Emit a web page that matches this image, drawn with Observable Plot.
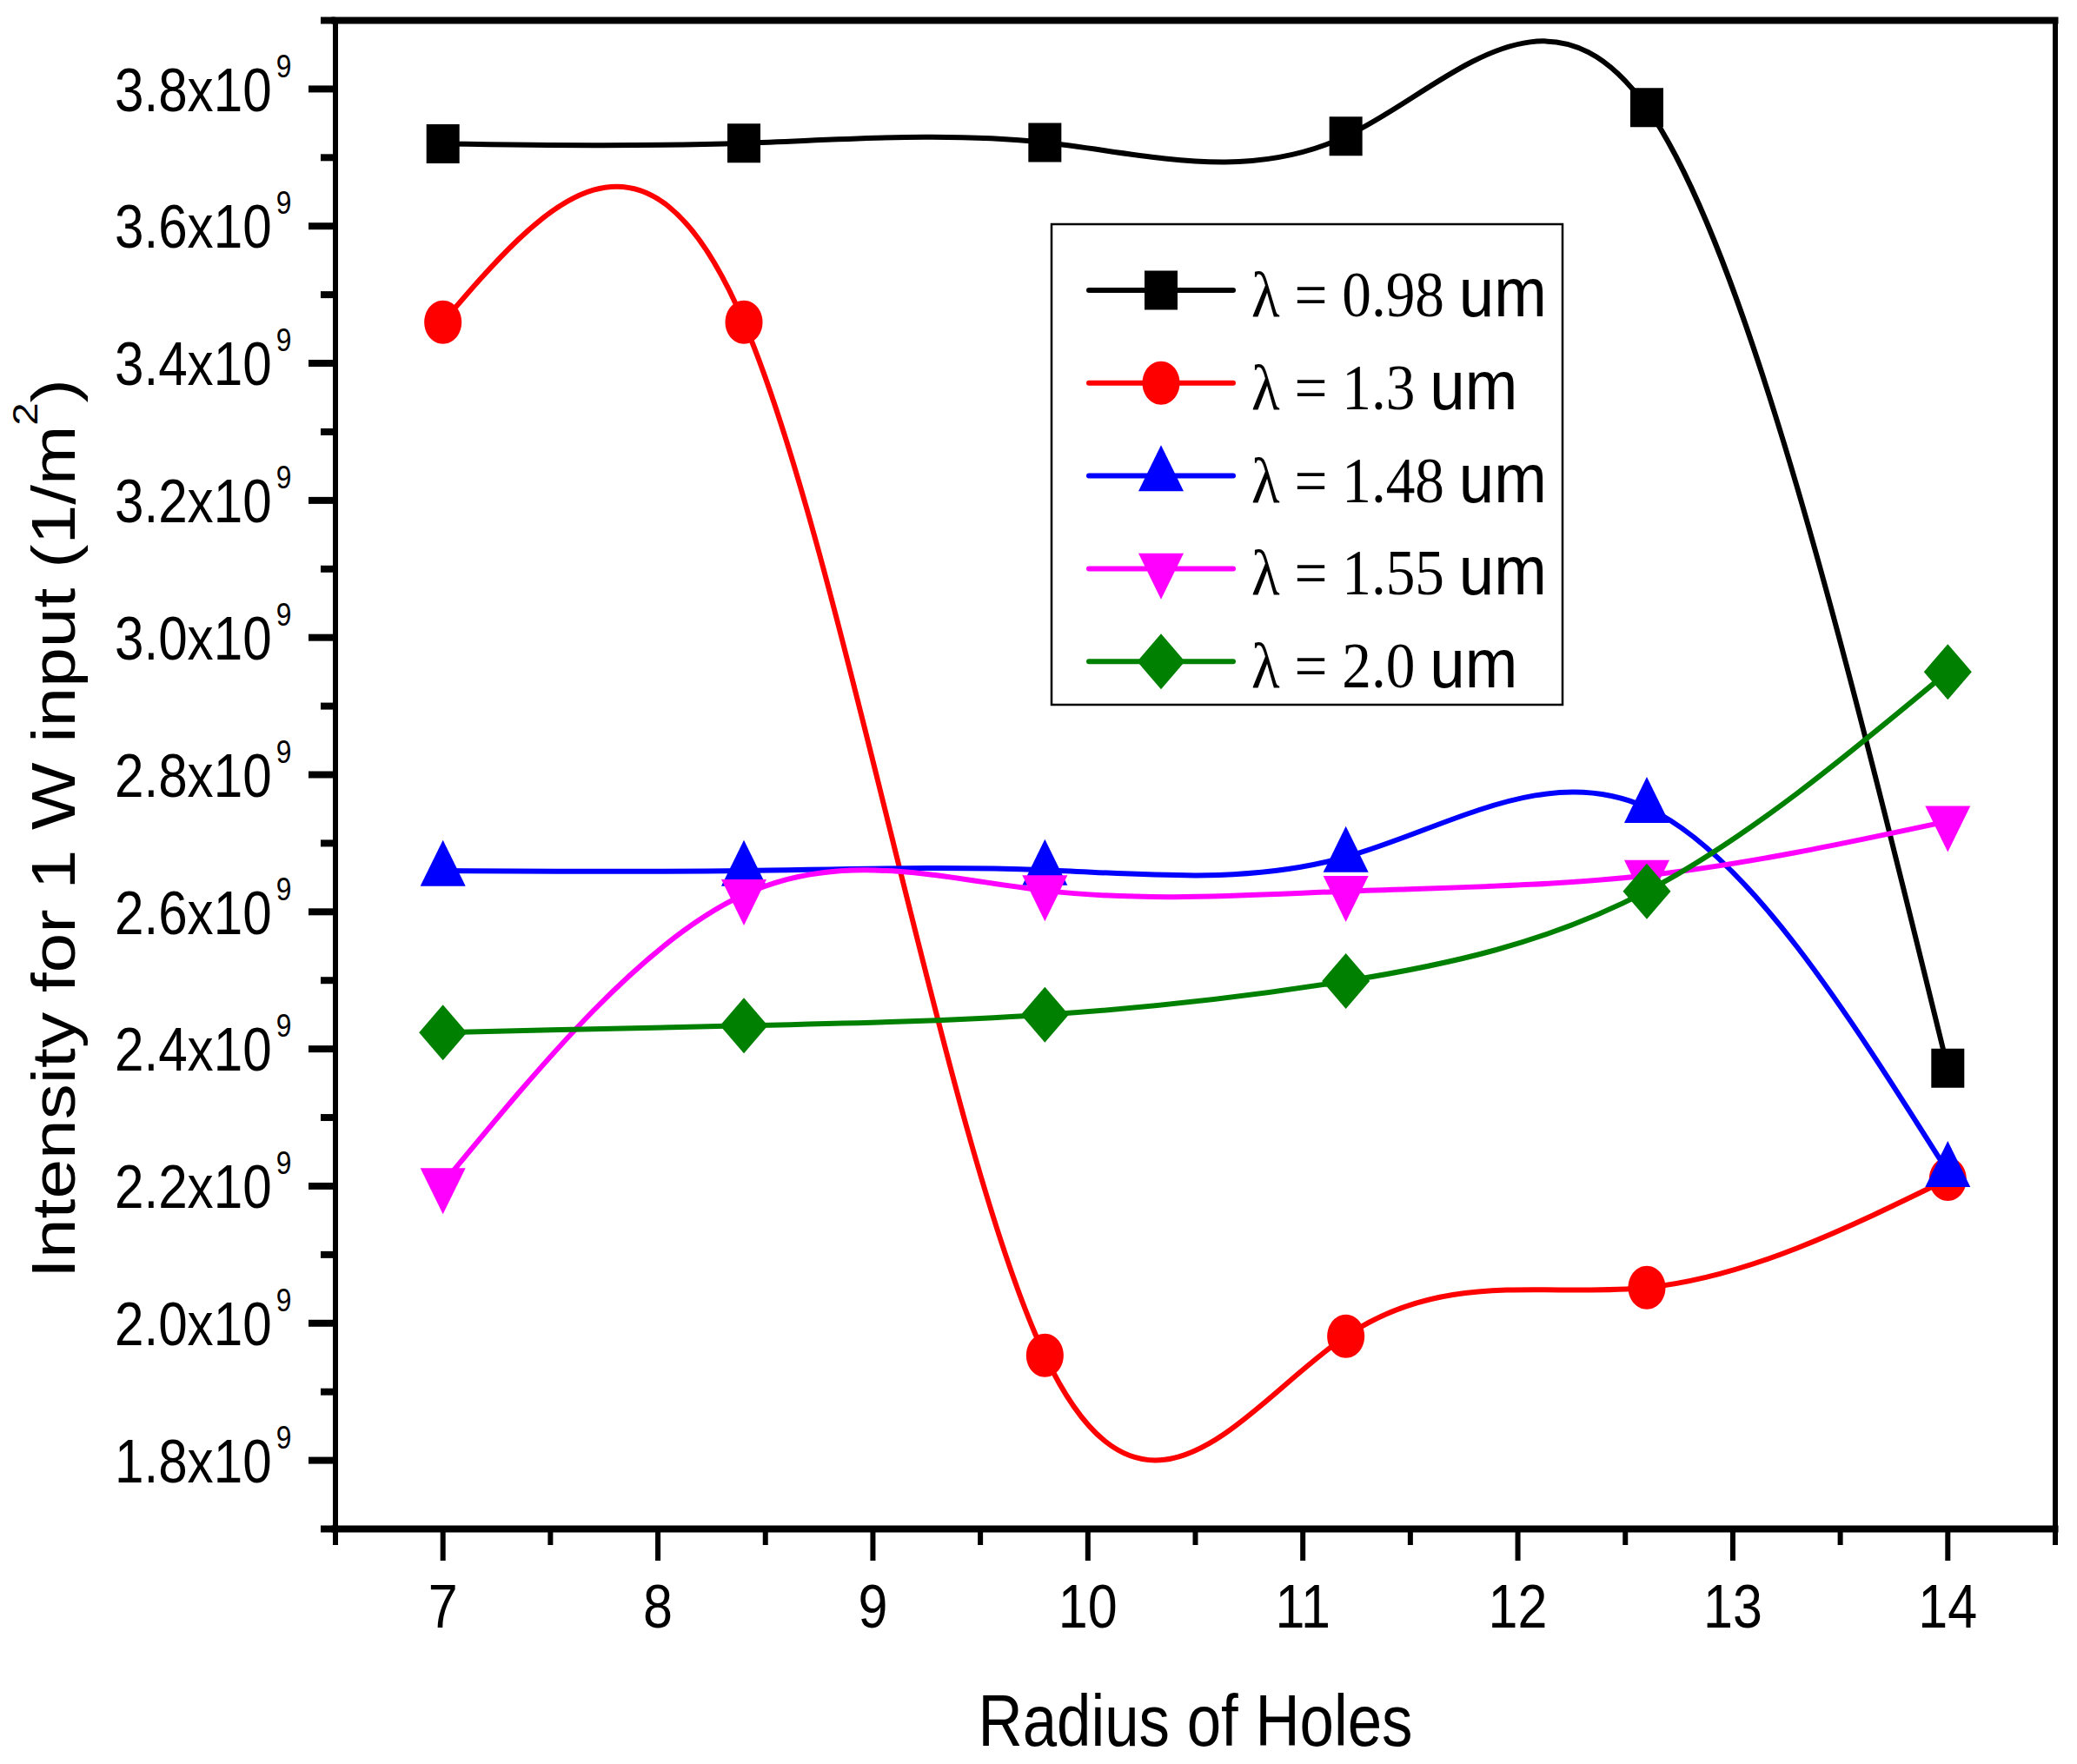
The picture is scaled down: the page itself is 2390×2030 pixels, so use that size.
<!DOCTYPE html>
<html>
<head>
<meta charset="utf-8">
<script src="https://cdn.jsdelivr.net/npm/d3@7"></script>
<script src="https://cdn.jsdelivr.net/npm/@observablehq/plot@0.6"></script>
<style>
  html, body { margin: 0; padding: 0; background: #ffffff; overflow: hidden; }
  svg { display: block; }
</style>
</head>
<body>
<div id="chart"></div>
<script>
// ---------------- data ----------------
const radius = [7, 8.4, 9.8, 11.2, 12.6, 14];
const wavelengths = ["0.98", "1.3", "1.48", "1.55", "2.0"];
const s098 = [3.720e9, 3.721e9, 3.722e9, 3.731e9, 3.773e9, 2.372e9];
const s130 = [3.460e9, 3.460e9, 1.953e9, 1.981e9, 2.052e9, 2.210e9];
const s148 = [2.660e9, 2.660e9, 2.661e9, 2.680e9, 2.752e9, 2.221e9];
const s155 = [2.204e9, 2.625e9, 2.631e9, 2.630e9, 2.653e9, 2.732e9];
const s200 = [2.424e9, 2.434e9, 2.450e9, 2.499e9, 2.630e9, 2.950e9];
const seriesValues = [s098, s130, s148, s155, s200];
const seriesColors = ["#000000", "#ff0000", "#0000ff", "#ff00ff", "#008000"];
const yMajorTicks = [1.8e9, 2.0e9, 2.2e9, 2.4e9, 2.6e9, 2.8e9, 3.0e9, 3.2e9, 3.4e9, 3.6e9, 3.8e9];
const yMinorTicks = [1.7e9, 1.9e9, 2.1e9, 2.3e9, 2.5e9, 2.7e9, 2.9e9, 3.1e9, 3.3e9, 3.5e9, 3.7e9, 3.9e9];
const xMajorTicks = [7, 8, 9, 10, 11, 12, 13, 14];
const xMinorTicks = [6.5, 7.5, 8.5, 9.5, 10.5, 11.5, 12.5, 13.5, 14.5];
const xTitle = "Radius of Holes";
const yTitle = "Intensity for 1 W input (1/m²)";

// ---------------- marker shapes (Origin-like, slightly taller than wide) ----------------
const K = 0.5523;
const symSquare = { draw(c) { c.moveTo(-19, -22.5); c.lineTo(19, -22.5); c.lineTo(19, 22.5); c.lineTo(-19, 22.5); c.closePath(); } };
const symCircle = { draw(c) {
  const a = 21.5, b = 25;
  c.moveTo(a, 0);
  c.bezierCurveTo(a, b * K, a * K, b, 0, b);
  c.bezierCurveTo(-a * K, b, -a, b * K, -a, 0);
  c.bezierCurveTo(-a, -b * K, -a * K, -b, 0, -b);
  c.bezierCurveTo(a * K, -b, a, -b * K, a, 0);
  c.closePath();
} };
const symTriUp = { draw(c) { const w = 52, h = 53; c.moveTo(0, -2 * h / 3); c.lineTo(w / 2, h / 3); c.lineTo(-w / 2, h / 3); c.closePath(); } };
const symTriDown = { draw(c) { const w = 52, h = 53; c.moveTo(-w / 2, -h / 3); c.lineTo(w / 2, -h / 3); c.lineTo(0, 2 * h / 3); c.closePath(); } };
const symDiamond = { draw(c) { const w = 55, h = 64; c.moveTo(0, -h / 2); c.lineTo(w / 2, 0); c.lineTo(0, h / 2); c.lineTo(-w / 2, 0); c.closePath(); } };
const seriesSymbols = [symSquare, symCircle, symTriUp, symTriDown, symDiamond];

// ---------------- build rows ----------------
const rows = [];
seriesValues.forEach((vals, s) => radius.forEach((r, j) => rows.push({ r, v: vals[j], s })));

// ---------------- marks ----------------
const marks = [
  Plot.axisY(yMinorTicks, { tickSize: 16.5, strokeWidth: 8, tickFormat: () => "", label: null }),
  Plot.axisY(yMajorTicks, { tickSize: 30.5, strokeWidth: 8, tickPadding: 20, tickFormat: d => (d / 1e9).toFixed(1) + "x10", fontSize: 70, label: null }),
  Plot.axisX(xMinorTicks, { tickSize: 19, strokeWidth: 6, tickFormat: () => "", label: null }),
  Plot.axisX(xMajorTicks, { tickSize: 37, strokeWidth: 6, tickPadding: 26, tickFormat: d => String(d), fontSize: 71, label: null })
];
seriesValues.forEach((_, s) => {
  const data = rows.filter(d => d.s === s);
  marks.push(Plot.line(data, { x: "r", y: "v", curve: "natural", stroke: seriesColors[s], strokeWidth: 6 }));
  marks.push(Plot.dot(data, { x: "r", y: "v", symbol: seriesSymbols[s], r: 10, fill: seriesColors[s], stroke: "none" }));
});
marks.push(Plot.ruleX([6.5, 14.5], { strokeWidth: 6, strokeLinecap: "square" }));
marks.push(Plot.ruleY([1.7e9, 3.9e9], { strokeWidth: 8, strokeLinecap: "square" }));
marks.push(Plot.text([xTitle], { text: d => d, frameAnchor: "bottom", dy: 249, lineAnchor: "bottom", fontSize: 84, textAnchor: "middle" }));
marks.push(Plot.text([yTitle], { text: d => d, frameAnchor: "left", dx: -300.5, dy: 62, rotate: -90, lineAnchor: "bottom", fontSize: 70, textAnchor: "middle" }));

const svg = Plot.plot({
  width: 2390,
  height: 2030,
  marginLeft: 385.5,
  marginRight: 25.5,
  marginTop: 23,
  marginBottom: 271,
  x: { domain: [6.5, 14.5], label: null },
  y: { domain: [1.7e9, 3.9e9], label: null },
  style: { fontFamily: "'Liberation Sans', Arial, sans-serif", color: "#000", background: "#fff", overflow: "visible" },
  marks
});
document.getElementById("chart").append(svg);
const root = d3.select(svg);

// ---------------- text styling post-process ----------------
function squeeze(el, sx) {
  const xa = el.getAttribute("x");
  let pre = "";
  if (xa != null && xa !== "" && !isNaN(+xa)) { el.removeAttribute("x"); pre = ` translate(${+xa},0)`; }
  el.setAttribute("transform", (el.getAttribute("transform") || "") + pre + ` scale(${sx},1)`);
}

root.selectAll('g[aria-label="y-axis tick label"] text').each(function () {
  const t = this.textContent;
  if (!t) return;
  this.removeAttribute("dy");
  this.setAttribute("y", "0.36em");
  this.setAttribute("font-size", 70);
  d3.select(this).append("tspan").attr("dx", 6).attr("dy", -39).attr("font-size", 37).text("9");
  squeeze(this, 0.86);
});
root.selectAll('g[aria-label="x-axis tick label"] text').each(function () {
  if (!this.textContent) return;
  this.setAttribute("font-size", 71);
  squeeze(this, 0.86);
});
root.selectAll('g[aria-label="text"] text').each(function () {
  const t = this.textContent;
  if (t === xTitle) {
    squeeze(this, 500 / this.getComputedTextLength());
  } else if (t === yTitle) {
    const sel = d3.select(this);
    const main = t.slice(0, t.indexOf("²"));
    sel.text(null);
    sel.append("tspan").text(main);
    sel.append("tspan").attr("dy", -43).attr("font-size", 40).text("2");
    sel.append("tspan").attr("dy", 43).text(")");
    squeeze(this, 1035 / this.getComputedTextLength());
  }
});

// ---------------- legend ----------------
const lg = root.append("g").attr("aria-label", "legend").attr("text-anchor", "start");
lg.append("rect").attr("x", 1210).attr("y", 258).attr("width", 588).attr("height", 553)
  .attr("fill", "#fff").attr("stroke", "#000").attr("stroke-width", 2.5);
let legendScale = null;
wavelengths.forEach((w, i) => {
  const y = 334 + i * 106.8;
  lg.append("line").attr("x1", 1253).attr("x2", 1419).attr("y1", y).attr("y2", y)
    .attr("stroke", seriesColors[i]).attr("stroke-width", 6).attr("stroke-linecap", "round");
  lg.append("path").attr("d", d3.symbol(seriesSymbols[i], 100)()).attr("transform", `translate(1336,${y})`)
    .attr("fill", seriesColors[i]);
  const t = lg.append("text").attr("x", 0).attr("y", 0).attr("fill", "#000").attr("text-anchor", "start");
  t.append("tspan").attr("font-family", "'Liberation Serif', 'Times New Roman', serif").attr("font-size", 74).text(`λ = ${w} `);
  t.append("tspan").attr("font-family", "'Liberation Sans', Arial, sans-serif").attr("font-size", 80).text("um");
  if (legendScale === null) legendScale = 340 / t.node().getComputedTextLength();
  t.attr("transform", `translate(1440,${y + 30}) scale(${legendScale},1)`);
});
</script>
</body>
</html>
